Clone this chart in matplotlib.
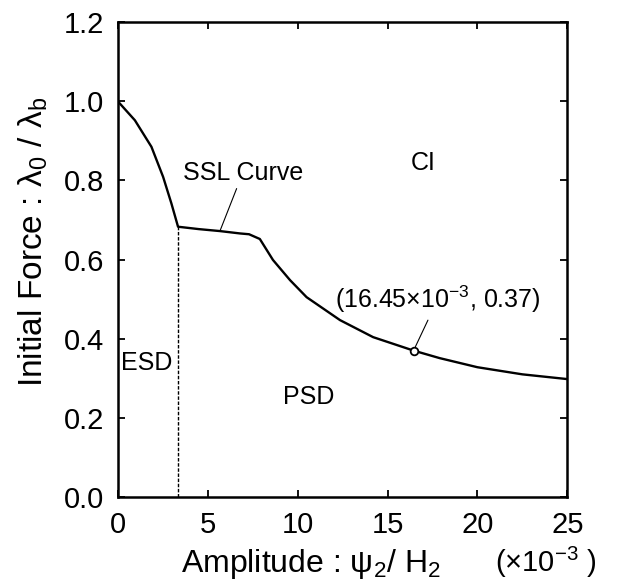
import matplotlib
matplotlib.use("Agg")
import matplotlib.pyplot as plt
from matplotlib.ticker import FormatStrFormatter

plt.rcParams['font.family'] = ['Liberation Sans', 'DejaVu Sans']
plt.rcParams['mathtext.fontset'] = 'custom'
plt.rcParams['mathtext.rm'] = 'Liberation Sans'
plt.rcParams['mathtext.it'] = 'Liberation Sans'
plt.rcParams['mathtext.default'] = 'regular'

# SSL curve (amplitude x1e-3, initial force ratio)
ssl_x = [0, 0.95, 1.87, 2.52, 2.98, 3.35, 4.5, 5.68, 6.8, 7.3, 7.9, 8.63, 9.58,
         10.5, 12.36, 14.2, 16.45, 17.9, 20, 22.5, 25]
ssl_y = [1.0, 0.952, 0.885, 0.809, 0.742, 0.683, 0.677, 0.672, 0.666, 0.664, 0.652,
         0.599, 0.548, 0.505, 0.447, 0.404, 0.37, 0.351, 0.328, 0.31, 0.298]

# ESD/PSD boundary
esd_x = [3.35, 3.35]
esd_y = [0.0, 0.683]

# marked point
pt_x = 16.45
pt_y = 0.37

x_ticks = [0, 5, 10, 15, 20, 25]
y_ticks = [0.0, 0.2, 0.4, 0.6, 0.8, 1.0, 1.2]

fig = plt.figure(figsize=(6.2, 5.82), dpi=100)
ax = fig.add_axes([0.190, 0.146, 0.725, 0.816])

ax.plot(ssl_x, ssl_y, color='black', lw=1.7)
ax.plot(esd_x, esd_y, color='black', lw=1.0, ls=(0, (2.5, 1.2)))
ax.plot([pt_x], [pt_y], 'o', ms=5.5, mfc='white', mec='black', mew=1.3, zorder=5)

ax.set_xlim(0, 25)
ax.set_ylim(0, 1.2)
ax.set_xticks(x_ticks)
ax.set_yticks(y_ticks)
ax.yaxis.set_major_formatter(FormatStrFormatter('%.1f'))
ax.tick_params(direction='in', length=5, width=1.3, top=True, right=True,
               labelsize=21, pad=10)
for s in ax.spines.values():
    s.set_linewidth(1.8)

fig.text(0.053, 0.584, 'Initial Force : $λ_0$ / $λ_b$', fontsize=24,
         rotation=90, ha='center', va='center')
fig.text(0.502, 0.017, 'Amplitude : $ψ_2$/ $H_2$', fontsize=23,
         ha='center', va='baseline')
fig.text(0.88, 0.017, r'($\times$10$^{-3}$ )', fontsize=21, ha='center', va='baseline')

# annotations
ax.annotate('SSL Curve', xy=(5.68, 0.672), xytext=(6.96, 0.82), fontsize=18,
            ha='center', va='center',
            arrowprops=dict(arrowstyle='-', color='black', lw=0.8, shrinkA=1, shrinkB=0))
ax.text(17.0, 0.844, 'CI', fontsize=18, ha='center', va='center')
ax.annotate(r'(16.45$\times$10$^{-3}$, 0.37)', xy=(pt_x, pt_y), xytext=(17.8, 0.50),
            fontsize=18, ha='center', va='center',
            arrowprops=dict(arrowstyle='-', color='black', lw=0.8, shrinkA=2, shrinkB=3))
ax.text(1.6, 0.338, 'ESD', fontsize=18, ha='center', va='center')
ax.text(10.6, 0.253, 'PSD', fontsize=18, ha='center', va='center')

fig.savefig('out.png', dpi=100)
